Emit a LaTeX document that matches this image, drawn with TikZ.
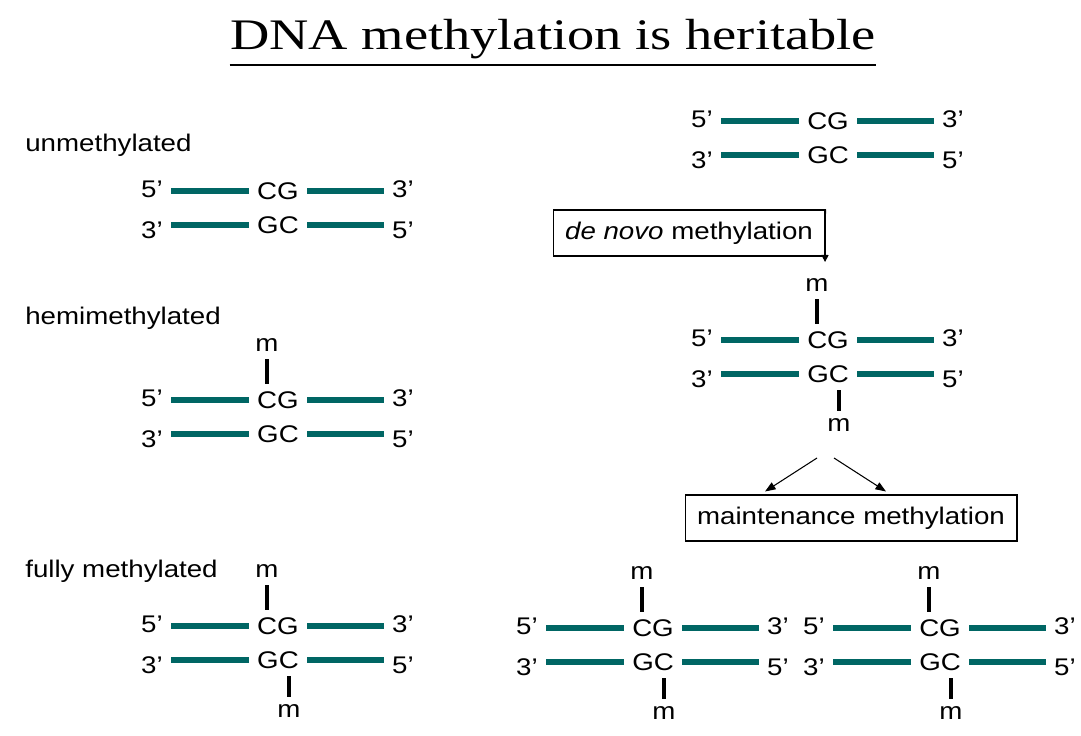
\documentclass[tikz,border=0pt]{standalone}
\usepackage{fontspec}
\setmainfont[FakeStretch=1.15]{Liberation Sans}
\newfontfamily\titlefont[FakeStretch=1.25]{Liberation Serif}
\usetikzlibrary{arrows.meta,positioning}
\definecolor{strandteal}{RGB}{0,102,100}

% one CG/GC duplex: #1 name, #2 x, #3 y of the CG row
\newcommand{\duplex}[3]{%
  \node[seq] (#1-cg) at (#2,#3) {CG};
  \node[seq] (#1-gc) at (#2,#3+34) {GC};
  \node[endlbl] (#1-tl) at (#2-126,#3-2) {5’};
  \node[endlbl] (#1-tr) at (#2+125,#3-2) {3’};
  \node[endlbl] (#1-bl) at (#2-126,#3+39) {3’};
  \node[endlbl] (#1-br) at (#2+125,#3+39) {5’};
  \draw[strandbar] (#1-tl.east |- #1-cg) -- (#1-cg.west);
  \draw[strandbar] (#1-cg.east) -- (#1-tr.west |- #1-cg);
  \draw[strandbar] (#1-bl.east |- #1-gc) -- (#1-gc.west);
  \draw[strandbar] (#1-gc.east) -- (#1-br.west |- #1-gc);
}
% methyl mark on the top strand
\newcommand{\methup}[3]{%
  \node[mlbl] (#1-mu) at (#2-11,#3-55) {m};
  \draw[methtick] (#1-mu.south) -- (#1-mu |- #1-cg.north);
}
% methyl mark on the bottom strand
\newcommand{\methdown}[3]{%
  \node[mlbl] (#1-md) at (#2+11,#3+85) {m};
  \draw[methtick] (#1-md |- #1-gc.south) -- (#1-md.north);
}

\begin{document}
\begin{tikzpicture}[
    x=0.02cm, y=-0.02cm,
    every node/.style={font=\fontsize{13.7}{16}\selectfont},
    seq/.style={inner xsep=4.6pt, inner ysep=0pt},
    endlbl/.style={inner xsep=4.6pt, inner ysep=0pt},
    mlbl/.style={inner sep=0pt},
    catlbl/.style={anchor=west, inner sep=0pt},
    strandbar/.style={draw=strandteal, line width=3.4pt},
    methtick/.style={line width=2.3pt, shorten <=4.2pt, shorten >=4.2pt},
    procbox/.style={rectangle, draw, line width=0.6pt, minimum height=0.92cm},
    arrow/.style={-{Triangle[length=6pt, width=4.5pt]}, line width=0.6pt}
]
\useasboundingbox (0,0) rectangle (1081,736);

% Title
\node[anchor=base, inner xsep=0pt, inner ysep=3.1pt,
      font=\titlefont\fontsize{24.8}{28}\selectfont] (title) at (553,50)
      {DNA methylation is heritable};
\draw[line width=1.2pt] (title.south west) -- (title.south east);

% Left column: the three states
\node[catlbl] (unmeth) at (25,145) {unmethylated};
\duplex{un}{278}{191}

\node[catlbl] (hemi) at (25,318) {hemimethylated};
\duplex{hm}{278}{400}
\methup{hm}{278}{400}

\node[catlbl] (fully) at (25,571) {fully methylated};
\duplex{fm}{278}{626}
\methup{fm}{278}{626}
\methdown{fm}{278}{626}

% Right column: de novo step
\duplex{top}{828}{121}
\node[procbox, minimum width=5.44cm] (denovo) at (689,233) {\textit{de novo} methylation};
\coordinate (denovo-tip) at (825,262);
\draw[-{Triangle[length=4pt, width=4pt]}, line width=0.6pt] (denovo.north east) -- (denovo-tip);

\duplex{mid}{828}{340}
\methup{mid}{828}{340}
\methdown{mid}{828}{340}

% Maintenance step
\coordinate (fork-l) at (817,458);
\coordinate (fork-r) at (834,458);
\node[procbox, minimum width=6.64cm] (maint) at (851,518) {maintenance methylation};
\draw[arrow] (fork-l) -- ([xshift=-1.72cm, yshift=0.06cm]maint.north);
\draw[arrow] (fork-r) -- ([xshift=0.7cm, yshift=0.06cm]maint.north);

\duplex{dl}{653}{628}
\methup{dl}{653}{628}
\methdown{dl}{653}{628}

\duplex{dr}{940}{628}
\methup{dr}{940}{628}
\methdown{dr}{940}{628}
\end{tikzpicture}
\end{document}
